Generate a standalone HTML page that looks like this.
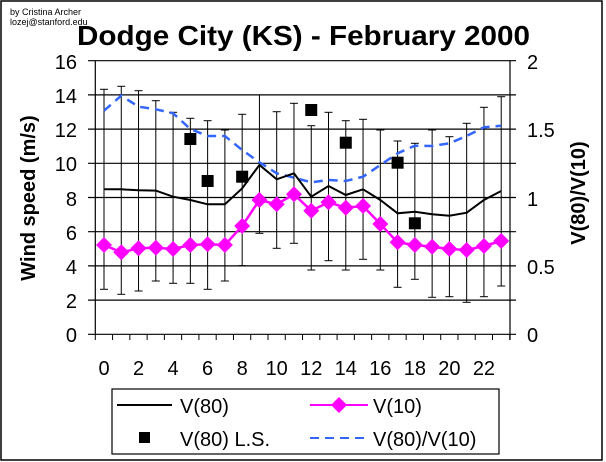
<!DOCTYPE html>
<html><head><style>html,body{margin:0;padding:0;background:#fff}svg{display:block}</style></head><body>
<svg width="606" height="462" xmlns="http://www.w3.org/2000/svg" font-family="Liberation Sans, Arial, sans-serif">
<rect x="0" y="0" width="606" height="462" fill="#fff"/>
<rect x="1" y="1" width="601" height="459" fill="none" stroke="#000" stroke-width="1.5"/>
<text x="10" y="15" font-size="9">by Cristina Archer</text>
<text x="10" y="25" font-size="9">lozej@stanford.edu</text>
<text x="77" y="45" font-size="28" font-weight="bold" textLength="453" lengthAdjust="spacingAndGlyphs">Dodge City (KS) - February 2000</text>
<g stroke="#000" stroke-width="1.2">
<line x1="88" y1="60.7" x2="516" y2="60.7"/>
<line x1="88" y1="94.9" x2="516" y2="94.9"/>
<line x1="88" y1="129.1" x2="516" y2="129.1"/>
<line x1="88" y1="163.3" x2="516" y2="163.3"/>
<line x1="88" y1="197.5" x2="516" y2="197.5"/>
<line x1="88" y1="231.7" x2="516" y2="231.7"/>
<line x1="88" y1="265.9" x2="516" y2="265.9"/>
<line x1="88" y1="300.1" x2="516" y2="300.1"/>
<line x1="88" y1="334.3" x2="516" y2="334.3"/>
<line x1="95.3" y1="60.7" x2="95.3" y2="334.3"/>
<line x1="510" y1="60.7" x2="510" y2="340"/>
</g>
<g stroke="#000" stroke-width="1" id="xt"></g>
<g font-size="20" text-anchor="end">
<text x="77" y="69">16</text><text x="77" y="103">14</text><text x="77" y="137">12</text><text x="77" y="171">10</text><text x="77" y="206">8</text><text x="77" y="240">6</text><text x="77" y="274">4</text><text x="77" y="308">2</text><text x="77" y="342">0</text>
</g>
<g font-size="20">
<text x="527" y="69">2</text><text x="527" y="137">1.5</text><text x="527" y="206">1</text><text x="527" y="274">0.5</text><text x="527" y="342">0</text>
</g>
<text transform="translate(35,198) rotate(-90)" font-size="20" font-weight="bold" text-anchor="middle">Wind speed (m/s)</text>
<text transform="translate(585,193) rotate(-90)" font-size="20" font-weight="bold" text-anchor="middle">V(80)/V(10)</text>
<g id="dyn"></g>
<rect x="112" y="389" width="387" height="65" fill="none" stroke="#000" stroke-width="1.2"/>
<line x1="117" y1="405" x2="172" y2="405" stroke="#000" stroke-width="2"/>
<text x="180" y="413" font-size="20">V(80)</text>
<rect x="139" y="432" width="11" height="11" fill="#000"/>
<text x="180" y="446" font-size="20">V(80) L.S.</text>
<line x1="310" y1="405" x2="368" y2="405" stroke="#ff00ff" stroke-width="2"/>
<polygon points="339,397 347,405 339,413 331,405" fill="#ff00ff"/>
<text x="373" y="413" font-size="20">V(10)</text>
<line x1="310" y1="438" x2="368" y2="438" stroke="#3366ff" stroke-width="2" stroke-dasharray="9,6"/>
<text x="373" y="446" font-size="20">V(80)/V(10)</text>
<script>
(function(){
var NS="http://www.w3.org/2000/svg";
function X(h){return 104+17.27*h;}
var xt=document.getElementById("xt"),d=document.getElementById("dyn");
function el(p,t,a){var e=document.createElementNS(NS,t);for(var k in a)e.setAttribute(k,a[k]);p.appendChild(e);return e;}
for(var i=0;i<=24;i++){var x=95.3+17.27*i;el(xt,"line",{x1:x,y1:334,x2:x,y2:340});}
for(var h=0;h<=22;h+=2){var t=el(d,"text",{x:X(h),y:375,"font-size":20,"text-anchor":"middle"});t.textContent=h;}
var top=[89.3,86.3,90.7,100.7,112.3,118.3,120.7,130,114.3,95,111.7,103.3,125.7,112.3,120.7,119.3,130,141,143.3,130,136.7,123.3,107.3,96.7];
var bot=[289.3,294.3,291,281,283.3,283.3,289.3,281,265.7,233.3,248.3,243.3,270,260.7,270,259.3,270,287.3,279.3,297.3,296.7,302.3,296.7,286];
for(var h=0;h<24;h++){var x=X(h);
el(d,"line",{x1:x,y1:top[h],x2:x,y2:bot[h],stroke:"#000","stroke-width":1});
el(d,"line",{x1:x-4,y1:top[h],x2:x+4,y2:top[h],stroke:"#000","stroke-width":1});
el(d,"line",{x1:x-4,y1:bot[h],x2:x+4,y2:bot[h],stroke:"#000","stroke-width":1});}
var r=[110.7,95.7,106.7,109.3,113.3,129,136,136,150,162.3,173.3,177.7,182.3,180,181,176.7,165,153.3,145.7,146,143.3,136,127.3,125.7];
var v80=[189.3,189.3,190.3,190.6,196.7,200,204.3,204.3,188.3,165,179.3,173.3,196.7,186,195,189.3,200,213.3,211.7,214.3,215.7,212.7,200,191];
var v10=[245,252.3,248.3,247.7,249,245,244.3,245,226,200,204.3,194.3,210.7,202.3,207.7,206,224,242.3,245,246.7,249,250,246,241];
function pts(a){return a.map(function(y,h){return X(h)+","+y;}).join(" ");}
el(d,"polyline",{points:pts(r),fill:"none",stroke:"#3366ff","stroke-width":2.5,"stroke-dasharray":"9,6"});
el(d,"polyline",{points:pts(v80),fill:"none",stroke:"#000","stroke-width":2});
el(d,"polyline",{points:pts(v10),fill:"none",stroke:"#ff00ff","stroke-width":2.5});
v10.forEach(function(y,h){var x=X(h);el(d,"polygon",{points:(x)+","+(y-8)+" "+(x+8)+","+y+" "+x+","+(y+8)+" "+(x-8)+","+y,fill:"#ff00ff"});});
var ls=[[5,139],[6,181],[8,176.7],[12,110],[14,142.7],[17,162.7],[18,223.3]];
ls.forEach(function(p){var x=X(p[0]);el(d,"rect",{x:x-6,y:p[1]-6,width:12,height:12,fill:"#000"});});
})();
</script>
</svg>
</body></html>
